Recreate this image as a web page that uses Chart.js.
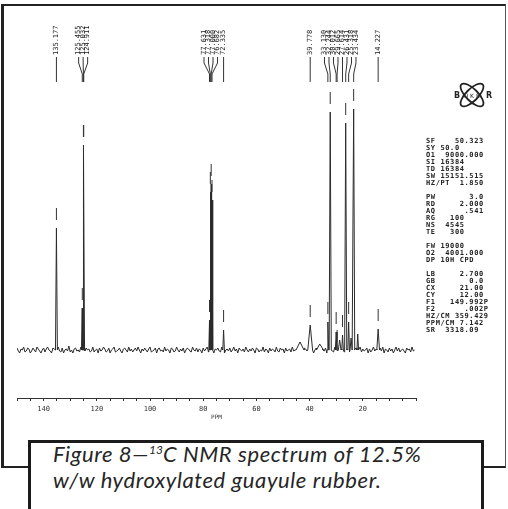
<!DOCTYPE html>
<html>
<head>
<meta charset="utf-8">
<script src="https://cdn.jsdelivr.net/npm/chart.js@4"></script>
<style>
html, body { margin: 0; padding: 0; background: #fff; }
#wrap    { position: relative; width: 508px; height: 509px; overflow: hidden; }
#frame   { position: absolute; left: 1px; top: 4px; width: 501px; height: 460px;
           border-left: 3px solid #222; border-top: 2px solid #222; border-right: 1px solid #555; border-bottom: 2px solid #222; }
#chart   { position: absolute; left: 0; top: 0; }
#params  { position: absolute; left: 426px; top: 137.5px; margin: 0; color: #222;
           font: bold 7px "DejaVu Sans Mono", monospace; letter-spacing: 0.6px; line-height: 7px; white-space: pre; }
#params div.gap { height: 7.3px; }
#caption { position: absolute; left: 28px; top: 440px; width: 450px; height: 90px; background: #fff;
           border: 3px solid #1b1b1b; border-bottom: none; }
#caption p { position: absolute; left: 22px; top: 0; margin: 0; color: #262626; white-space: nowrap;
             font: italic 22px Lato, sans-serif; letter-spacing: 0.6px; line-height: 22px; }
#caption sup { font-size: 12px; position: relative; top: -8px; vertical-align: baseline; letter-spacing: 0; }
</style>
</head>
<body>
<div id="wrap">
	<div id="frame"></div>
	<canvas id="chart" width="508" height="509"></canvas>
	<div id="params"></div>
	<div id="caption"><p>Figure 8—<sup>13</sup>C NMR spectrum of 12.5%<br>w/w hydroxylated guayule rubber.</p></div>
</div>
<script>
// baseline noise, one value every 0.5 ppm from 150 ppm down
var noiseStart = 150;
var noiseStep  = 0.5;
var noise = [
	2,-1,-3,1,0,3,-2,-1,2,1,-3,-1,2,0,-2,3,1,-1,-3,0,2,-2,1,3,0,-1,-3,2,1,-2,
	0,3,-1,-2,2,-3,0,1,-1,4,-2,0,-3,1,2,-1,0,-2,3,1,-3,-1,2,0,1,-2,-1,3,-2,0,
	1,-3,2,-1,0,3,1,-2,-1,2,-3,0,1,3,-2,-1,0,2,-1,-3,1,2,0,-2,3,-1,1,-2,0,2,
	-1,3,0,-3,1,-1,2,0,-2,1,3,-2,-1,0,2,-3,1,2,-1,0,-2,3,-1,1,0,-3,2,1,-2,-1,
	3,0,-2,1,-1,2,-3,0,2,1,-1,-2,3,0,-1,2,-2,1,0,-3,2,-1,1,3,-2,0,-1,2,-3,1,
	0,2,-1,-2,3,1,-3,0,1,-1,2,-2,0,3,-1,1,-3,2,0,-1,1,-2,3,0,-2,1,-1,2,0,-3,
	2,1,-2,0,-1,3,-2,1,0,-3,2,-1,1,0,-2,3,-1,-2,2,0,1,-3,2,-1,0,1,-2,3,-1,0,
	-2,1,3,-1,0,-3,2,1,-1,0,2,-2,1,-3,0,2,-1,3,-2,0,1,-1,2,-3,0,1,2,-1,-2,3,
	0,-1,2,-3,1,0,-2,3,1,-1,-2,2,0,-3,1,2,-1,0,3,-2,1,-1,0,2,-3,1,-2,0,3,-1,
	1,-2,0,2,-1,3,-3,1,0,-2,2,-1,1,-3,0,3,-1,2,-2,0,1,-1,-3,2,0,1,-2,3,-1,0
];

// peaks: position (ppm), height, half width at base (ppm)
var peakPpm    = [135.177, 125.455, 125.011, 77.631, 77.318, 77.000, 76.682, 72.335, 43.6, 39.778, 36.2, 33.130, 32.244, 30.012, 28.7, 27.614, 26.431, 25.318, 24.4, 23.434, 21.9, 14.227];
var peakHeight = [122,     42,      205,     30,     158,    166,    150,    20,     8,    25,     6,    28,     238,    18,     10,   15,     227,    28,     12,   241,    16,   21];
var peakBase   = [0.35,    0.3,     0.4,     0.25,   0.25,   0.25,   0.25,   0.3,    1.5,  0.9,    1.2,  0.3,    0.4,    0.3,    0.5,  0.3,    0.4,    0.3,    0.4,  0.4,    0.3,  0.5];

// peak-pick list printed at the top of the plot
var pickedPpm = [135.177, 125.455, 125.032, 124.911, 77.631, 77.318, 77.000, 76.682, 72.335,
                 39.778, 33.130, 32.244, 30.012, 29.665, 27.614, 26.431, 25.318, 23.434, 14.227];

var axisLabels = [140, 120, 100, 80, 60, 40, 20];

var paramGroups = [
	['SF    50.323', 'SY 50.0', 'O1  9000.000', 'SI 16384', 'TD 16384', 'SW 15151.515', 'HZ/PT  1.850'],
	['PW       3.0', 'RD     2.000', 'AQ      .541', 'RG   100', 'NS  4545', 'TE   300'],
	['FW 19000', 'O2  4001.000', 'DP 10H CPD'],
	['LB     2.700', 'GB       0.0', 'CX     21.00', 'CY     12.00', 'F1   149.992P', 'F2      .002P', 'HZ/CM 359.429', 'PPM/CM 7.142', 'SR  3318.09']
];

function buildSpectrum() {
	var pts = [];
	noise.forEach(function(v, i) {
		var ppm = noiseStart - i * noiseStep;
		var inPeak = peakPpm.some(function(c, k) {return Math.abs(ppm - c) < peakBase[k];});
		if (!inPeak) {pts.push({x: ppm, y: v});}
	});
	peakPpm.forEach(function(c, k) {
		pts.push({x: c + peakBase[k], y: 0}, {x: c, y: peakHeight[k]}, {x: c - peakBase[k], y: 0});
	});
	pts.sort(function(a, b) {return b.x - a.x;});
	return pts;
}

function spreadLabels(xs, gap) {
	var groups = xs.map(function(v) {return {sum: v, n: 1};});
	var lo = function(g) {return g.sum / g.n - (g.n - 1) * gap / 2;};
	var hi = function(g) {return g.sum / g.n + (g.n - 1) * gap / 2;};
	for (var i = 0; i < groups.length - 1; ) {
		if (hi(groups[i]) + gap > lo(groups[i + 1])) {
			groups[i] = {sum: groups[i].sum + groups[i + 1].sum, n: groups[i].n + groups[i + 1].n};
			groups.splice(i + 1, 1);
			i = Math.max(0, i - 1);
		}
		else {i++;}
	}
	var out = [];
	groups.forEach(function(g) {for (var j = 0; j < g.n; j++) {out.push(lo(g) + j * gap);}});
	return out;
}

var spectrum = buildSpectrum();

function maxNear(ppm, span) {
	var m = 0;
	spectrum.forEach(function(p) {if (Math.abs(p.x - ppm) <= span && p.y > m) {m = p.y;}});
	return m;
}

var pickPlugin = {
	id: 'peakPicks',
	afterDatasetsDraw: function(chart) {
		var ctx = chart.ctx, x = chart.scales.x, y = chart.scales.y;
		var targets = pickedPpm.map(function(p) {return x.getPixelForValue(p);});
		var slots   = spreadLabels(targets, 4.5);

		ctx.save();
		ctx.strokeStyle = '#333';
		ctx.fillStyle   = '#222';
		ctx.lineWidth   = 1;
		ctx.font        = '7px "DejaVu Sans Mono"';
		pickedPpm.forEach(function(p, i) {
			var tx = targets[i], lx = slots[i];
			ctx.beginPath();
			ctx.moveTo(lx, 57);
			ctx.lineTo(lx, 63);
			ctx.lineTo(tx, 74);
			ctx.lineTo(tx, 82);
			var yt = y.getPixelForValue(maxNear(p, 0.2));
			ctx.moveTo(tx, yt - 20);
			ctx.lineTo(tx, yt - 8);
			ctx.stroke();

			ctx.save();
			ctx.translate(lx, 55);
			ctx.rotate(-Math.PI / 2);
			ctx.textAlign    = 'left';
			ctx.textBaseline = 'middle';
			ctx.fillText(p.toFixed(3), 0, 0);
			ctx.restore();
		});

		// Bruker logo
		ctx.lineWidth = 1.8;
		ctx.strokeStyle = '#222';
		ctx.beginPath(); ctx.ellipse(472, 95, 15, 6, Math.PI / 4, 0, 2 * Math.PI);  ctx.stroke();
		ctx.beginPath(); ctx.ellipse(472, 95, 15, 6, -Math.PI / 4, 0, 2 * Math.PI); ctx.stroke();
		ctx.textAlign = 'center';
		ctx.textBaseline = 'middle';
		ctx.font = 'bold 8px "DejaVu Sans"';
		ctx.fillText('B', 457, 96);
		ctx.fillText('R', 489, 96);
		ctx.font = '6px "DejaVu Sans"';
		ctx.fillText('U', 466, 96);
		ctx.fillText('K', 472, 96);
		ctx.fillText('E', 478, 96);
		ctx.restore();
	}
};

// parameter listing
var $params = document.getElementById('params');
paramGroups.forEach(function(group, g) {
	if (g > 0) {var gap = document.createElement('div'); gap.className = 'gap'; $params.appendChild(gap);}
	group.forEach(function(line) {
		var d = document.createElement('div');
		d.textContent = line;
		$params.appendChild(d);
	});
});

var ctx = document.getElementById('chart').getContext('2d');
new Chart(ctx, {
	type: 'scatter',
	data: {
		datasets: [{
			data:        spectrum,
			showLine:    true,
			borderColor: '#2b2b2b',
			borderWidth: 1,
			pointRadius: 0,
			tension:     0
		}]
	},
	options: {
		responsive: false,
		animation:  false,
		layout:     {padding: {left: 17, right: 92, top: 60, bottom: 85}},
		plugins:    {legend: {display: false}, tooltip: {enabled: false}},
		scales: {
			x: {
				type: 'linear', reverse: true, min: 0, max: 150,
				afterFit: function(s) {s.height = 26;},
				grid:   {drawOnChartArea: false, drawTicks: true, tickLength: 3, color: '#333'},
				border: {display: true, color: '#333', width: 1},
				ticks:  {
					stepSize: 5, autoSkip: false, maxRotation: 0, padding: 4, color: '#333',
					font: {family: 'DejaVu Sans Mono', size: 7},
					callback: function(v) {return axisLabels.indexOf(v) >= 0 ? String(v) : '';}
				},
				title: {display: true, text: 'PPM', color: '#333', font: {family: 'DejaVu Sans Mono', size: 6}, padding: {top: 0, bottom: 3}}
			},
			y: {display: false, min: -48, max: 290}
		}
	},
	plugins: [pickPlugin]
});
</script>
</body>
</html>
